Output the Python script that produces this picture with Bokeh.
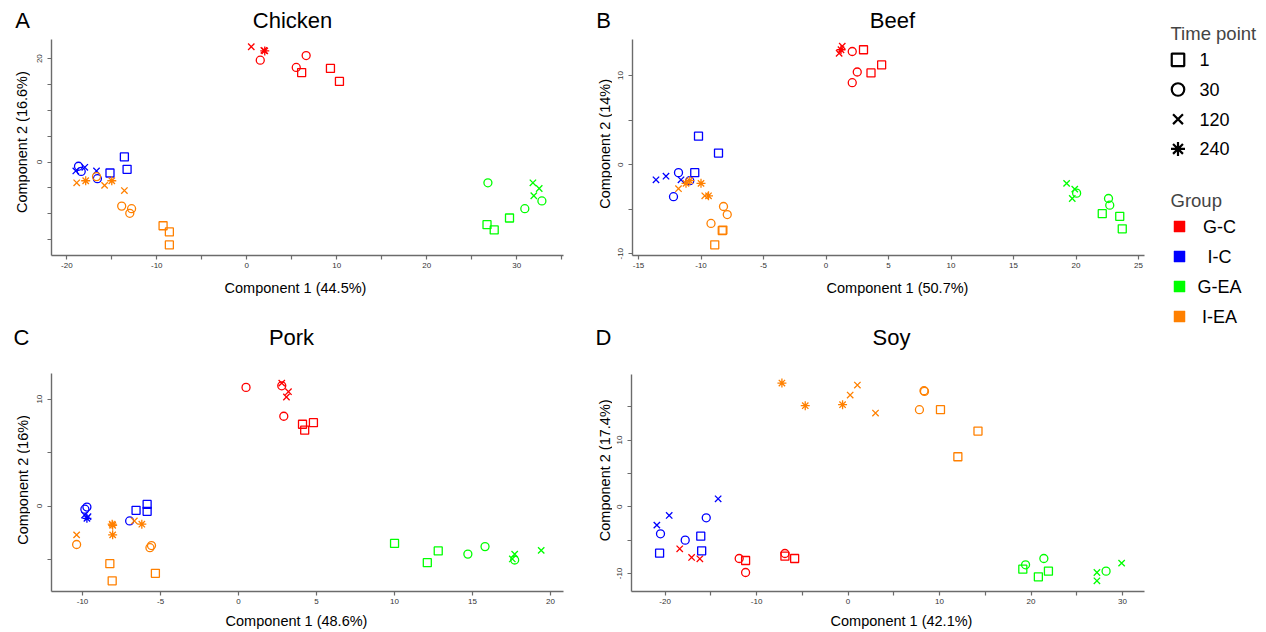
import math
from bokeh.plotting import figure
from bokeh.models import ColumnDataSource, Range1d, FixedTicker, Label
from bokeh.layouts import row, column
from bokeh.core.properties import value
from bokeh.embed import file_html
from bokeh.resources import INLINE

FONT = "Liberation Sans"

GROUPS = ["G-C", "I-C", "G-EA", "I-EA"]
GROUP_COLORS = ["#FF0000", "#0000FF", "#00FF00", "#FF8000"]
TIME_POINTS = [1, 30, 120, 240]
TIME_MARKERS = ["square", "circle", "x", "asterisk"]

# ---------------- Chicken ----------------
chicken_group = ["G-C"] * 9 + ["I-C"] * 9 + ["G-EA"] * 9 + ["I-EA"] * 12
chicken_time = [120, 120, 240, 30, 30, 30, 1, 1, 1,
                30, 30, 120, 120, 120, 30, 1, 1, 1,
                30, 120, 120, 120, 30, 30, 1, 1, 1,
                120, 240, 240, 120, 120, 30, 30, 30, 1, 1, 1, 30]
chicken_pc1 = [0.5, 1.9, 2.0, 1.5, 6.6, 5.5, 6.1, 9.3, 10.3,
               -18.7, -18.4, -19.0, -18.0, -16.7, -16.6, -13.6, -13.3, -15.2,
               26.8, 31.8, 32.5, 31.9, 32.8, 30.9, 29.2, 26.7, 27.5,
               -18.9, -17.9, -15.0, -15.8, -13.6, -13.9, -12.8, -13.0, -9.3, -8.6, -8.6, -16.7]
chicken_pc2 = [22.3, 21.6, 21.5, 19.7, 20.6, 18.3, 17.3, 18.1, 15.6,
               -0.8, -1.8, -1.7, -1.0, -1.7, -3.2, 1.0, -1.4, -2.1,
               -4.0, -4.0, -5.1, -6.5, -7.5, -9.0, -10.8, -12.1, -13.1,
               -4.0, -3.6, -3.6, -4.5, -5.5, -8.5, -9.0, -9.9, -12.3, -13.5, -16.0, -2.8]

# ---------------- Beef ----------------
beef_group = ["G-C"] * 9 + ["I-C"] * 9 + ["G-EA"] * 9 + ["I-EA"] * 12
beef_time = [120, 120, 240, 30, 1, 30, 1, 1, 30,
             1, 1, 120, 120, 30, 120, 1, 30, 30,
             120, 120, 120, 30, 30, 30, 1, 1, 1,
             120, 240, 240, 240, 120, 240, 30, 30, 30, 1, 1, 1]
beef_pc1 = [1.05, 1.3, 1.2, 2.1, 3.0, 2.5, 3.6, 4.45, 2.1,
            -10.2, -8.6, -13.6, -12.8, -11.8, -11.6, -10.5, -10.9, -12.2,
            19.25, 19.9, 19.7, 20.05, 22.6, 22.7, 22.1, 23.5, 23.7,
            -11.8, -11.2, -10.9, -10.0, -9.7, -9.4, -8.2, -7.9, -9.2, -8.3, -8.25, -8.9]
beef_pc2 = [12.5, 13.3, 12.9, 12.7, 12.9, 10.4, 10.3, 11.2, 9.2,
            3.2, 1.3, -1.7, -1.3, -0.9, -1.7, -0.9, -1.8, -3.6,
            -2.1, -2.75, -3.8, -3.2, -3.8, -4.55, -5.5, -5.8, -7.2,
            -2.7, -2.1, -1.8, -2.1, -3.5, -3.5, -4.7, -5.6, -6.6, -7.4, -7.35, -9.0]

# ---------------- Pork ----------------
pork_group = ["G-C"] * 9 + ["I-C"] * 9 + ["G-EA"] * 9 + ["I-EA"] * 12
pork_time = [30, 120, 30, 120, 120, 30, 1, 1, 1,
             30, 30, 120, 240, 120, 30, 1, 1, 1,
             1, 1, 1, 30, 30, 120, 120, 30, 120,
             240, 240, 240, 120, 240, 120, 30, 30, 30, 1, 1, 1]
pork_pc1 = [0.48, 2.77, 2.77, 3.2, 3.07, 2.9, 4.1, 4.8, 4.24,
            -9.72, -9.85, -9.87, -9.72, -9.65, -6.98, -6.57, -5.86, -5.86,
            10.0, 12.8, 12.1, 14.7, 15.8, 17.7, 17.55, 17.7, 19.4,
            -8.07, -8.1, -8.07, -6.68, -6.2, -10.38, -10.38, -5.58, -5.68, -8.25, -8.1, -5.33]
pork_pc2 = [11.1, 11.5, 11.25, 10.7, 10.2, 8.4, 7.65, 7.8, 7.1,
            -0.1, -0.3, -0.85, -1.15, -1.0, -1.4, -0.4, 0.15, -0.5,
            -3.5, -4.2, -5.3, -4.5, -3.8, -4.5, -4.95, -5.05, -4.15,
            -1.8, -1.7, -2.7, -1.4, -1.7, -2.7, -3.6, -3.7, -3.9, -5.4, -7.0, -6.3]

# ---------------- Soy ----------------
soy_group = ["G-C"] * 9 + ["I-C"] * 9 + ["G-EA"] * 9 + ["I-EA"] * 12
soy_time = [120, 120, 120, 30, 1, 30, 30, 1, 1,
            120, 120, 120, 30, 30, 30, 1, 1, 1,
            1, 30, 30, 1, 1, 120, 120, 30, 120,
            240, 240, 240, 120, 120, 120, 30, 30, 30, 1, 1, 1]
soy_pc1 = [-18.4, -17.1, -16.2, -11.9, -11.2, -11.2, -6.9, -6.9, -5.84,
           -14.2, -19.55, -20.9, -15.5, -20.5, -17.8, -16.1, -16.0, -20.6,
           19.1, 19.4, 21.4, 20.8, 21.9, 27.2, 27.2, 28.2, 29.9,
           -7.23, -4.68, -0.6, 1.02, 0.23, 3.0, 8.3, 8.35, 7.8, 10.1, 14.2, 12.0]
soy_pc2 = [-6.3, -7.6, -7.8, -7.75, -8.05, -9.85, -7.0, -7.4, -7.75,
           1.2, -1.3, -2.75, -1.65, -4.05, -5.0, -4.4, -6.6, -6.95,
           -9.35, -8.7, -7.75, -10.5, -9.65, -9.85, -11.1, -9.65, -8.45,
           18.55, 15.15, 15.3, 18.25, 16.75, 14.05, 17.4, 17.3, 14.55, 14.55, 11.35, 7.5]

PANEL_NAMES = ["Chicken", "Beef", "Pork", "Soy"]
PANEL_LETTERS = ["A", "B", "C", "D"]
X_LABELS = ["Component 1 (44.5%)", "Component 1 (50.7%)", "Component 1 (48.6%)", "Component 1 (42.1%)"]
Y_LABELS = ["Component 2 (16.6%)", "Component 2 (14%)", "Component 2 (16%)", "Component 2 (17.4%)"]

# ---------------- panel geometry (layout only, page pixels) ----------------
PANELS = [
    dict(group=chicken_group, time=chicken_time, pc1=chicken_pc1, pc2=chicken_pc2,
         page=(30, 36), w=564, h=240, bl=21, br=31, bt=3, bb=21,
         xr=(-21.7, 35.2), yr=(-18.05, 23.7),
         xt=[-20, -15, -10, -5, 0, 5, 10, 15, 20, 25, 30, 35], xl=[-20, -10, 0, 10, 20, 30],
         yt=[-15, -10, -5, 0, 5, 10, 15, 20], yl=[0, 20]),
    dict(group=beef_group, time=beef_time, pc1=beef_pc1, pc2=beef_pc2,
         page=(612, 36), w=548, h=240, bl=20, br=16, bt=3, bb=21,
         xr=(-15.48, 25.48), yr=(-10.2, 14.05),
         xt=[-15, -10, -5, 0, 5, 10, 15, 20, 25], xl=[-15, -10, -5, 0, 5, 10, 15, 20, 25],
         yt=[-10, -5, 0, 5, 10], yl=[-10, 0, 10]),
    dict(group=pork_group, time=pork_time, pc1=pork_pc1, pc2=pork_pc2,
         page=(30, 352), w=564, h=256, bl=21, br=31, bt=21, bb=17,
         xr=(-11.99, 20.83), yr=(-8.0, 12.4),
         xt=[-10, -5, 0, 5, 10, 15, 20], xl=[-10, -5, 0, 5, 10, 15, 20],
         yt=[-5, 0, 5, 10], yl=[0, 10]),
    dict(group=soy_group, time=soy_time, pc1=soy_pc1, pc2=soy_pc2,
         page=(612, 352), w=548, h=256, bl=19, br=16, bt=22, bb=17,
         xr=(-23.67, 32.4), yr=(-12.7, 19.83),
         xt=[-20, -15, -10, -5, 0, 5, 10, 15, 20, 25, 30], xl=[-20, -10, 0, 10, 20, 30],
         yt=[-10, -5, 0, 5, 10, 15], yl=[-10, 0, 10]),
]

color_of = dict(zip(GROUPS, GROUP_COLORS))
marker_of = dict(zip(TIME_POINTS, TIME_MARKERS))
AXIS_COLOR = "#6b6b6b"


def blank(w, h):
    p = figure(width=w, height=h, x_range=Range1d(0, w), y_range=Range1d(h, 0),
               output_backend="svg", toolbar_location=None, min_border=0,
               x_axis_location=None, y_axis_location=None, title=None)
    p.xgrid.visible = False
    p.ygrid.visible = False
    p.grid.grid_line_color = None
    p.outline_line_color = None
    p.background_fill_color = "white"
    p.border_fill_color = "white"
    return p


def put(p, origin, pos, text, size, angle=0.0):
    p.add_layout(Label(x=pos[0] - origin[0], y=pos[1] - origin[1], text=text,
                       text_font=FONT, text_font_size=size, text_align="center",
                       text_baseline="middle", angle=angle, text_color="black"))


def make_panel(s):
    p = figure(width=s["w"], height=s["h"], x_range=Range1d(*s["xr"]), y_range=Range1d(*s["yr"]),
               output_backend="svg", toolbar_location=None, title=None,
               min_border_left=s["bl"], min_border_right=s["br"],
               min_border_top=s["bt"], min_border_bottom=s["bb"])
    p.grid.visible = False
    p.outline_line_color = None
    p.background_fill_color = "white"
    p.border_fill_color = "white"
    for ax, ticks, labeled in ((p.xaxis[0], s["xt"], s["xl"]), (p.yaxis[0], s["yt"], s["yl"])):
        ax.ticker = FixedTicker(ticks=ticks, minor_ticks=[])
        ax.major_label_overrides = {t: (str(t) if t in labeled else "") for t in ticks}
        ax.axis_line_color = AXIS_COLOR
        ax.axis_line_width = 1.4
        ax.major_tick_line_color = AXIS_COLOR
        ax.major_tick_line_width = 1.2
        ax.major_tick_in = 0
        ax.major_tick_out = 4
        ax.minor_tick_line_color = None
        ax.major_label_text_font = FONT
        ax.major_label_text_font_size = "8px"
        ax.major_label_text_color = "#333333"
    p.xaxis[0].major_label_standoff = 3
    p.yaxis[0].major_label_standoff = 5
    p.yaxis[0].major_label_orientation = "vertical"

    src = ColumnDataSource(dict(
        x=s["pc1"], y=s["pc2"],
        color=[color_of[g] for g in s["group"]],
        marker=[marker_of[t] for t in s["time"]],
        size=[9 if t in (120, 240) else 8 for t in s["time"]],
    ))
    p.scatter(x="x", y="y", marker="marker", size="size", line_color="color", fill_color=None,
              line_width=1.3, source=src)
    return p


pA, pB, pC, pD = [make_panel(s) for s in PANELS]

# ---- text strips (headers, y-label strips, footers) ----
headA = blank(594, 36)
put(headA, (0, 0), (22, 20), PANEL_LETTERS[0], "22px")
put(headA, (0, 0), (292, 20), PANEL_NAMES[0], "22px")
headB = blank(566, 36)
put(headB, (594, 0), (603, 20), PANEL_LETTERS[1], "22px")
put(headB, (594, 0), (892, 20), PANEL_NAMES[1], "22px")

stripA = blank(30, 240)
put(stripA, (0, 36), (21, 150), Y_LABELS[0], "14.5px", math.pi / 2)
stripB = blank(18, 240)
put(stripB, (594, 36), (604, 152), Y_LABELS[1], "14.5px", math.pi / 2)

headC = blank(594, 76)
put(headC, (0, 276), (295, 287), X_LABELS[0], "14.5px")
put(headC, (0, 276), (21, 337), PANEL_LETTERS[2], "22px")
put(headC, (0, 276), (291, 337), PANEL_NAMES[2], "22px")
headD = blank(566, 76)
put(headD, (594, 276), (897, 287), X_LABELS[1], "14.5px")
put(headD, (594, 276), (603, 337), PANEL_LETTERS[3], "22px")
put(headD, (594, 276), (891, 337), PANEL_NAMES[3], "22px")

stripC = blank(30, 256)
put(stripC, (0, 352), (22, 477), Y_LABELS[2], "14.5px", math.pi / 2)
stripD = blank(18, 256)
put(stripD, (594, 352), (604, 465), Y_LABELS[3], "14.5px", math.pi / 2)

footC = blank(594, 24)
put(footC, (0, 608), (296, 620), X_LABELS[2], "14.5px")
footD = blank(566, 24)
put(footD, (594, 608), (901, 620), X_LABELS[3], "14.5px")

# ---------------- legend panel ----------------
LW, LH = 106, 632
pl = blank(LW, LH)

n_t = len(TIME_POINTS)
time_src = ColumnDataSource(dict(
    x=[17.5] * n_t,
    y=[59.3 + 29.7 * i for i in range(n_t)],
    tx=[39.0] * n_t,
    marker=TIME_MARKERS,
    size=[12.5, 12.5, 14, 14],
    label=[str(t) for t in TIME_POINTS],
))
pl.scatter(x="x", y="y", marker="marker", size="size", line_color="black", fill_color=None,
           line_width=2.2, source=time_src)
pl.text(x="tx", y="y", text="label", source=time_src, text_font=value(FONT),
        text_font_size="18px", text_baseline="middle", text_align="left", text_color="black")

n_g = len(GROUPS)
grp_src = ColumnDataSource(dict(
    x=[19.0] * n_g,
    y=[226.0 + 30.0 * i for i in range(n_g)],
    tx=[59.0] * n_g,
    color=GROUP_COLORS,
    label=GROUPS,
))
pl.scatter(x="x", y="y", marker="square", size=11, line_color="color", fill_color="color",
           line_width=0.5, source=grp_src)
pl.text(x="tx", y="y", text="label", source=grp_src, text_font=value(FONT),
        text_font_size="18px", text_baseline="middle", text_align="center", text_color="black")

pl.add_layout(Label(x=10, y=32.7, text="Time point", text_font=FONT, text_font_size="18.5px",
                    text_baseline="middle", text_align="left"))
pl.add_layout(Label(x=10, y=200, text="Group", text_font=FONT, text_font_size="18.5px",
                    text_baseline="middle", text_align="left"))

col1 = column(headA, row(stripA, pA), headC, row(stripC, pC), footC)
col2 = column(headB, row(stripB, pB), headD, row(stripD, pD), footD)
layout = row(col1, col2, pl)

open("out.html", "w").write(file_html(layout, INLINE))
